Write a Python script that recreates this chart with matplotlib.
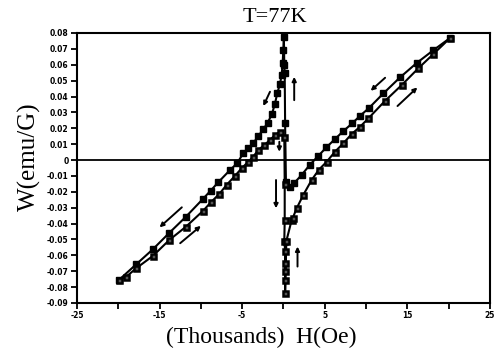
import matplotlib
matplotlib.use("Agg")
import matplotlib.pyplot as plt

# ---- data (H in thousands of Oe, W in emu/G) ----
desc_H = [20.2, 18.1, 16.1, 14.1, 12.1, 10.3, 9.3, 8.3, 7.2, 6.2, 5.2, 4.2, 3.2, 2.2, 1.3, 0.8, 0.3,
          0.2, 0.15, 0.1, 0.05,
          -0.02, -0.1, -0.22, -0.42, -0.75, -1.05, -1.4, -1.9, -2.44, -3.05, -3.66, -4.26, -4.87,
          -5.6, -6.5, -7.89, -8.81, -9.78, -11.8, -13.8, -15.8, -17.8, -19.9]
desc_W = [0.077, 0.069, 0.061, 0.052, 0.042, 0.0325, 0.028, 0.023, 0.018, 0.013, 0.008, 0.0025, -0.003,
          -0.0094, -0.0145, -0.0168, -0.014,
          0.023, 0.0545, 0.0597, 0.0776,
          0.069, 0.061, 0.0535, 0.048, 0.042, 0.035, 0.029, 0.0235, 0.0193, 0.0151, 0.0105, 0.0074,
          0.0042, -0.002, -0.0065, -0.014, -0.0193, -0.0247, -0.0357, -0.0458, -0.0562, -0.0656, -0.0755]

asc_H = [-19.9, -19.0, -17.8, -15.8, -13.8, -11.8, -9.71, -8.78, -7.77, -6.88, -5.87, -5.06, -4.26,
         -3.66, -3.05, -2.32, -1.63, -1.03, -0.42, 0.1,
         0.15, 0.15, 0.1, 0.2, 0.2, 0.2, 0.2, 0.2,
         0.35, 1.0, 1.11, 1.6, 2.4, 3.41, 4.3, 5.23, 6.23, 7.24, 8.26, 9.26, 10.27, 12.3, 14.31,
         16.31, 18.13, 20.2]
asc_W = [-0.0755, -0.0734, -0.0681, -0.0604, -0.0503, -0.042, -0.0319, -0.0266, -0.0214, -0.0157,
         -0.0100, -0.0052, -0.0011, 0.0021, 0.0063, 0.0094, 0.0126, 0.0157, 0.0178, 0.0147,
         -0.015, -0.038, -0.051, -0.057, -0.065, -0.070, -0.0755, -0.084,
         -0.051, -0.0377, -0.0367, -0.0304, -0.022, -0.0126, -0.006, -0.0011, 0.0052, 0.0105,
         0.0164, 0.0209, 0.0262, 0.0373, 0.0472, 0.0577, 0.0667, 0.077]

y_ticks = [0.08, 0.07, 0.06, 0.05, 0.04, 0.03, 0.02, 0.01, 0.0, -0.01, -0.02, -0.03, -0.04,
           -0.05, -0.06, -0.07, -0.08, -0.09]
y_labels = ["0.08", "0.07", "0.06", "0.05", "0.04", "0.03", "0.02", "0.01", "0", "-0.01", "-0.02",
            "-0.03", "-0.04", "-0.05", "-0.06", "-0.07", "-0.08", "-0.09"]
x_major = [-25, -15, -5, 5, 15, 25]
x_labels = ["-25", "-15", "-5", "5", "15", "25"]
x_minor = [-20, -10, 0, 10, 20]

# arrows: (start H, start W, end H, end W)
arrows = [
    (-12.3, -0.0298, -15.0, -0.0424),
    (-12.5, -0.0524, -10.0, -0.0415),
    (12.3, 0.0518, 10.55, 0.0436),
    (13.8, 0.034, 16.2, 0.0457),
    (-1.63, 0.043, -2.44, 0.034),
    (1.3, 0.0377, 1.3, 0.0524),
    (-0.5, 0.0115, -0.5, 0.0052),
    (-0.9, -0.0126, -0.9, -0.0304),
    (1.7, -0.0671, 1.7, -0.0545),
]

fig = plt.figure(figsize=(4.96, 3.51), dpi=100)
ax = fig.add_axes([0.155, 0.137, 0.833, 0.769])

ax.plot(desc_H, desc_W, color="black", lw=1.5, marker="s", markersize=4,
        markerfacecolor="black", markeredgecolor="black", zorder=3)
ax.plot(asc_H, asc_W, color="black", lw=1.5, marker="s", markersize=3.6,
        markerfacecolor="#555555", markeredgecolor="black", markeredgewidth=1.8, zorder=3)

ax.axhline(0, color="black", lw=1.3, zorder=2)

for h0, w0, h1, w1 in arrows:
    ax.annotate("", xy=(h1, w1), xytext=(h0, w0),
                arrowprops=dict(arrowstyle="-|>", color="black", lw=1.4, mutation_scale=6,
                                shrinkA=0, shrinkB=0))

ax.set_xlim(-25, 25)
ax.set_ylim(-0.09, 0.08)
ax.set_yticks(y_ticks)
ax.set_yticklabels(y_labels, fontsize=5.5, fontweight="bold", family="DejaVu Sans")
ax.set_xticks(x_major)
ax.set_xticklabels(x_labels, fontsize=5.5, fontweight="bold", family="DejaVu Sans")
ax.set_xticks(x_minor, minor=True)
ax.tick_params(axis="both", which="both", direction="out", length=4, width=1.3, pad=2)

for s in ax.spines.values():
    s.set_linewidth(1.5)

fig.text(274.5 / 496, 1 - 22 / 351, "T=77K", fontsize=16, family="Liberation Serif",
         ha="center", va="baseline")
fig.text(29 / 496, 1 - 157 / 351, "W(emu/G)", fontsize=18, family="Liberation Serif",
         ha="center", va="center", rotation=90)
fig.text(261 / 496, 1 - 343 / 351, "(Thousands)  H(Oe)", fontsize=17, family="Liberation Serif",
         ha="center", va="baseline")

fig.savefig("out.png", dpi=100)
